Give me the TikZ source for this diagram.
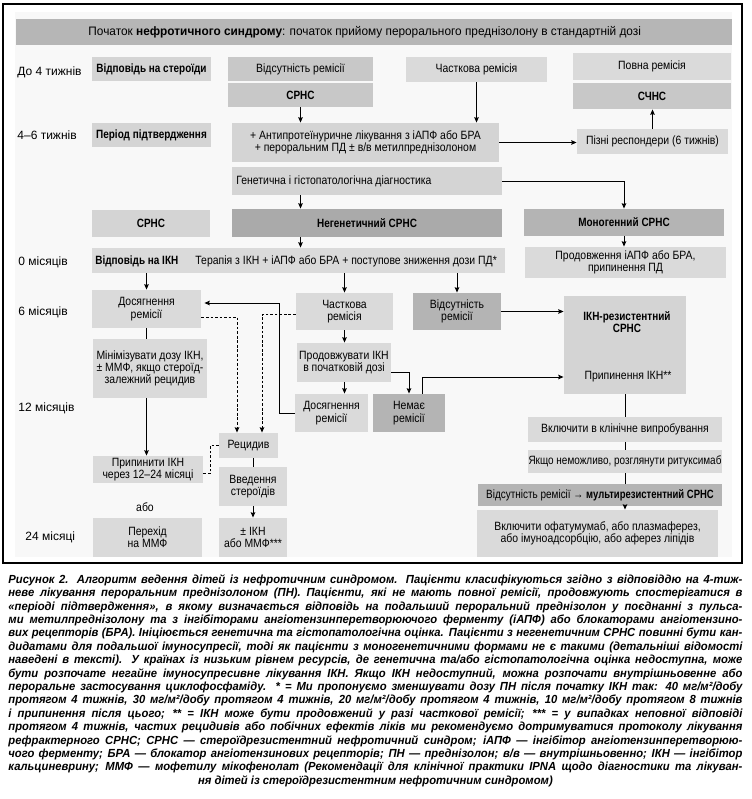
\documentclass[tikz,border=0pt]{standalone}
\usepackage{fontspec}
\setmainfont{Liberation Sans}
\newfontfamily\narrowff{Liberation Sans}[FakeStretch=0.87, BoldFeatures={FakeStretch=0.83}]
\newfontfamily\narrowerff{Liberation Sans}[FakeStretch=0.83, BoldFeatures={FakeStretch=0.79}]
\newfontfamily\hdrff{Liberation Sans}[FakeStretch=0.965]
\newfontfamily\capff{Liberation Sans}[FakeStretch=0.96]
\usetikzlibrary{arrows.meta,calc}
\definecolor{hdr}{RGB}{182,182,182}
\definecolor{lite}{RGB}{218,218,218}
\definecolor{lite2}{RGB}{212,212,212}
\definecolor{midg}{RGB}{200,200,200}
\definecolor{darkg}{RGB}{170,170,170}
\definecolor{dark2}{RGB}{180,180,180}
\definecolor{panel}{RGB}{248,248,248}
\newcommand\boxfont{\narrowff\fontsize{9}{9.2}\selectfont}
\newcommand\tightfont{\narrowerff\fontsize{9}{9.2}\selectfont}
\newcommand\lblfont{\fontsize{9}{11}\selectfont}
\newcommand\hdrfont{\hdrff\fontsize{9.2}{11}\selectfont}
\newcommand\capfont{\capff\bfseries\itshape\fontsize{8.8}{10.05}\selectfont}
\newcommand\bx[7]{\node[boxst,#1,minimum width={(#4-#2)*0.75pt},minimum height={(#5-#3)*0.75pt}] (#6) at ({(#2+#4)/2},{(#3+#5)/2}) {#7};}
\newcommand\capline[1]{\hbox to\hsize{#1}}
\tikzset{
  boxst/.style={inner sep=0pt, align=center, font=\boxfont, text=black},
  lbl/.style={anchor=west, inner sep=0pt, font=\lblfont},
  arr/.style={-{Stealth[length=4pt,width=3.4pt,inset=0.6pt]}},
  dsh/.style={dash pattern=on 2pt off 1.4pt},
  every path/.style={line width=0.65pt}
}
\begin{document}
\begin{tikzpicture}[x=0.75pt,y=-0.75pt]
\useasboundingbox (0,0) rectangle (751,799);
\fill[white] (0,0) rectangle (751,799);
\draw[line width=1.1pt] (3,4) rectangle (742,563);
\fill[panel] (15,12) rectangle (732,557);

% header
\bx{fill=hdr}{16}{19}{732}{45}{hdr}{}
\node[anchor=west, inner sep=0pt, font=\hdrfont] (hdrtxt) at (88,32) {Початок \textbf{нефротичного синдрому}: початок прийому перорального преднізолону в стандартній дозі};

% time labels
\node[lbl] (t1) at (17,72) {До 4 тижнів};
\node[lbl] (t2) at (17,135) {4–6 тижнів};
\node[lbl] (t3) at (18,262) {0 місяців};
\node[lbl] (t4) at (18,312) {6 місяців};
\node[lbl] (t5) at (18,408) {12 місяців};
\node[lbl] (t6) at (25,537) {24 місяці};

% boxes
\bx{fill=lite2}{92}{57}{211}{81}{resp}{\textbf{Відповідь на стероїди}}
\bx{fill=midg}{228}{57}{373}{81}{nrem}{Відсутність ремісії}
\bx{fill=midg}{228}{83}{373}{107}{srnc1}{\textbf{СРНС}}
\bx{fill=lite}{406}{57}{547}{82}{part}{Часткова ремісія}
\bx{fill=lite}{573}{53}{731}{80}{full}{Повна ремісія}
\bx{fill=midg}{573}{83}{731}{109}{schns}{\textbf{СЧНС}}
\bx{fill=lite}{577}{129}{728}{154}{late}{Пізні респондери (6 тижнів)}
\bx{fill=lite2}{92}{123}{211}{147}{conf}{\textbf{Період підтвердження}}
\bx{fill=lite2}{232}{123}{499}{162}{antip}{+ Антипротеїнуричне лікування з іАПФ або БРА\\+ пероральним ПД ± в/в метилпреднізолоном}
\bx{fill=lite2}{232}{167}{502}{195}{gen}{}
\node[anchor=west, inner sep=0pt, font=\boxfont] (gentxt) at (236,181) {Генетична і гістопатологічна діагностика};
\bx{fill=lite2}{92}{210}{210}{237}{srnc2}{\textbf{СРНС}}
\bx{fill=darkg}{232}{209}{502}{237}{negen}{\textbf{Негенетичний СРНС}}
\bx{fill=dark2}{524}{209}{724}{236}{mono}{\textbf{Моногенний СРНС}}
\bx{fill=lite}{525}{247}{726}{278}{prod}{Продовження іАПФ або БРА,\\припинення ПД}
\bx{fill=lite}{92}{248}{505}{273}{bar}{}
\node[anchor=west, inner sep=0pt, font=\boxfont\bfseries] (barl) at (95,261) {Відповідь на ІКН};
\node[anchor=west, inner sep=0pt, font=\boxfont] (barr) at (195,261) {Терапія з ІКН + іАПФ або БРА + поступове зниження дози ПД*};
\bx{fill=lite}{92}{290}{201}{328}{dos1}{Досягнення\\ремісії}
\bx{fill=lite}{296}{293}{393}{330}{part2}{Часткова\\ремісія}
\bx{fill=dark2}{413}{293}{501}{330}{abs2}{Відсутність\\ремісії}
\bx{fill=lite2}{564}{296}{686}{394}{ikn}{}
\node[font=\boxfont\bfseries, align=center, inner sep=0pt] (ikntitle) at (627,322) {ІКН-резистентний\\СРНС};
\node[font=\boxfont, inner sep=0pt] (iknstop) at (628,377) {Припинення ІКН**};
\bx{fill=lite}{297}{343}{391}{382}{cont}{Продовжувати ІКН\\в початковій дозі}
\bx{fill=lite}{295}{394}{368}{432}{dos2}{Досягнення\\ремісії}
\bx{fill=dark2}{373}{394}{445}{432}{nem}{Немає\\ремісії}
\bx{fill=lite}{93}{339}{207}{398}{minz}{Мінімізувати дозу ІКН,\\± ММФ, якщо стероїд-\\залежний рецидив}
\bx{fill=lite}{219}{433}{278}{458}{rec}{Рецидив}
\bx{fill=lite}{93}{456}{203}{483}{stop}{Припинити ІКН\\через 12–24 місяці}
\node[font=\boxfont, inner sep=0pt] (abo) at (145,507) {або};
\bx{fill=lite}{93}{518}{202}{557}{mmf}{Перехід\\на ММФ}
\bx{fill=lite}{219}{467}{287}{506}{intro}{Введення\\стероїдів}
\bx{fill=lite}{219}{518}{287}{557}{ikn2}{± ІКН\\або ММФ***}
\bx{fill=lite}{528}{417}{722}{442}{incl}{Включити в клінічне випробування}
\bx{fill=lite,font=\tightfont}{528}{450}{722}{473}{ifnot}{Якщо неможливо, розглянути ритуксимаб}
\bx{fill=dark2,font=\tightfont}{478}{484}{722}{506}{multi}{Відсутність ремісії → \textbf{мультирезистентний СРНС}}
\bx{fill=lite}{477}{510}{718}{557}{ofat}{Включити офатумумаб, або плазмаферез,\\або імуноадсорбцію, або аферез ліпідів}

% connectors
\draw[arr] (srnc1.south) -- (srnc1.south |- antip.north);
\draw[arr] (part.south) -- (part.south |- antip.north);
\draw[arr] (antip.east) -- (antip.east -| late.west);
\draw[arr] (late.north) -- (late.north |- schns.south);
\draw[arr] (gen.east) -| (mono.north);
\draw[arr] (srnc1.south |- gen.south) -- (srnc1.south |- negen.north);
\draw[arr] (srnc1.south |- negen.south) -- (srnc1.south |- bar.north);
\draw[arr] (mono.south) -- (mono.south |- prod.north);
\draw[arr] (dos1.north |- bar.south) -- (dos1.north);
\draw[arr] (part2.north |- bar.south) -- (part2.north);
\draw[arr] (abs2.north |- bar.south) -- (abs2.north);
\draw[arr] (abs2.east) -- (abs2.east -| ikn.west);
\draw[arr] (part2.south) -- (part2.south |- cont.north);
\draw[arr] (part2.south |- cont.south) -- (part2.south |- dos2.north);
\draw[arr] ($(cont.east)+(0,10)$) -| (nem.north);
\draw[arr] ($(nem.north)+(13,0)$) |- (ikn.west |- iknstop);
\draw[arr] (dos2.west) -- ++(-15,0) |- ($(dos1.east)+(3,-6)$);
\draw[dsh,arr] ($(dos1.east)+(0,8)$) -| ($(rec.north)+(-11.5,0)$);
\draw[dsh,arr] ($(part2.west)+(0,3)$) -| ($(rec.north)+(13.5,0)$);
\draw[dsh] ($(stop.east)+(0,4)$) -- ++(7,0) |- (rec.west);
\draw (intro.north |- rec.south) -- (intro.north);
\draw[arr] (intro.south) -- (ikn2.north);
\draw (dos1.south) -- (dos1.south |- minz.north);
\draw[arr] (dos1.south |- minz.south) -- (dos1.south |- stop.north);
\draw (ikn.south) -- (incl.north);
\draw (incl.south) -- (ifnot.north);
\draw (ifnot.south) -- (ifnot.south |- multi.north);
\draw[arr] (ifnot.south |- multi.south) -- (ifnot.south |- ofat.north);

% caption
\node[anchor=north west, inner sep=0pt] (cap) at (8,574) {\capfont\vbox{\hsize=550.5pt \baselineskip=10.05pt
\capline{Рисунок 2. Алгоритм ведення дітей із нефротичним синдромом. Пацієнти класифікуються згідно з відповіддю на 4-тиж-}
\capline{неве лікування пероральним преднізолоном (ПН). Пацієнти, які не мають повної ремісії, продовжують спостерігатися в}
\capline{«періоді підтвердження», в якому визначається відповідь на подальший пероральний преднізолон у поєднанні з пульса-}
\capline{ми метилпреднізолону та з інгібіторами ангіотензинперетворюючого ферменту (іАПФ) або блокаторами ангіотензино-}
\capline{вих рецепторів (БРА). Ініціюється генетична та гістопатологічна оцінка. Пацієнти з негенетичним СРНС повинні бути кан-}
\capline{дидатами для подальшої імуносупресії, тоді як пацієнти з моногенетичними формами не є такими (детальніші відомості}
\capline{наведені в тексті). У країнах із низьким рівнем ресурсів, де генетична та/або гістопатологічна оцінка недоступна, може}
\capline{бути розпочате негайне імуносупресивне лікування ІКН. Якщо ІКН недоступний, можна розпочати внутрішньовенне або}
\capline{пероральне застосування циклофосфаміду. * = Ми пропонуємо зменшувати дозу ПН після початку ІКН так: 40 мг/м²/добу}
\capline{протягом 4 тижнів, 30 мг/м²/добу протягом 4 тижнів, 20 мг/м²/добу протягом 4 тижнів, 10 мг/м²/добу протягом 8 тижнів}
\capline{і припинення після цього; ** = ІКН може бути продовжений у разі часткової ремісії; *** = у випадках неповної відповіді}
\capline{протягом 4 тижнів, частих рецидивів або побічних ефектів ліків ми рекомендуємо дотримуватися протоколу лікування}
\capline{рефрактерного СРНС; СРНС — стероїдрезистентний нефротичний синдром; іАПФ — інгібітор ангіотензинперетворюю-}
\capline{чого ферменту; БРА — блокатор ангіотензинових рецепторів; ПН — преднізолон; в/в — внутрішньовенно; ІКН — інгібітор}
\capline{кальциневрину; ММФ — мофетилу мікофенолат (Рекомендації для клінічної практики IPNA щодо діагностики та лікуван-}
\capline{\hfil ня дітей із стероїдрезистентним нефротичним синдромом)\hfil}
}};
\end{tikzpicture}
\end{document}
